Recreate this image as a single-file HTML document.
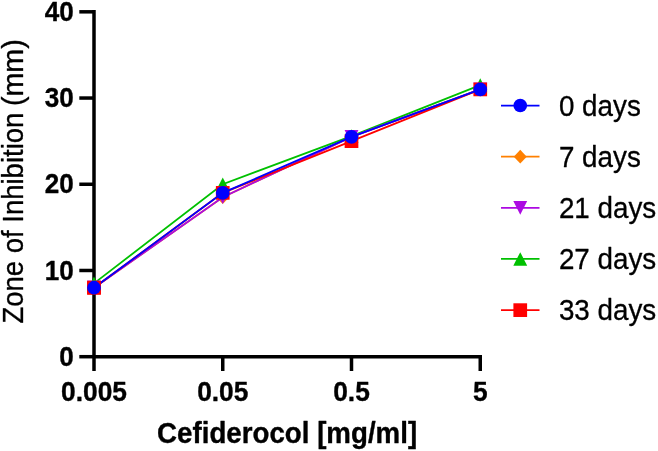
<!DOCTYPE html>
<html><head><meta charset="utf-8"><title>chart</title>
<style>
html,body{margin:0;padding:0;background:#fff;}
body{width:658px;height:451px;overflow:hidden;}
svg{display:block;will-change:transform;}
text{font-family:"Liberation Sans",sans-serif;fill:#000;}
.b{font-weight:bold;}
</style></head><body>
<svg width="658" height="451" viewBox="0 0 658 451">
<rect width="658" height="451" fill="#fff"/>

<polyline points="94.00,283.41 222.75,184.26 351.50,136.15 480.25,85.11" fill="none" stroke="#00c000" stroke-width="1.8"/>
<polygon points="94.00,276.56 100.95,290.26 87.05,290.26" fill="#00c000"/>
<polygon points="222.75,177.41 229.70,191.11 215.80,191.11" fill="#00c000"/>
<polygon points="351.50,129.30 358.45,143.00 344.55,143.00" fill="#00c000"/>
<polygon points="480.25,78.26 487.20,91.96 473.30,91.96" fill="#00c000"/>
<polyline points="94.00,287.72 222.75,197.19 351.50,136.84 480.25,89.42" fill="none" stroke="#ff8000" stroke-width="1.8"/>
<polygon points="94.00,280.92 100.50,287.72 94.00,294.52 87.50,287.72" fill="#ff8000"/>
<polygon points="222.75,190.39 229.25,197.19 222.75,203.99 216.25,197.19" fill="#ff8000"/>
<polygon points="351.50,130.04 358.00,136.84 351.50,143.64 345.00,136.84" fill="#ff8000"/>
<polygon points="480.25,82.62 486.75,89.42 480.25,96.22 473.75,89.42" fill="#ff8000"/>
<polyline points="94.00,287.72 222.75,197.19 351.50,136.84 480.25,89.42" fill="none" stroke="#ac0ae2" stroke-width="1.8"/>
<polygon points="94.00,294.57 100.95,280.87 87.05,280.87" fill="#ac0ae2"/>
<polygon points="222.75,204.04 229.70,190.34 215.80,190.34" fill="#ac0ae2"/>
<polygon points="351.50,143.69 358.45,129.99 344.55,129.99" fill="#ac0ae2"/>
<polygon points="480.25,96.27 487.20,82.57 473.30,82.57" fill="#ac0ae2"/>
<polyline points="94.00,287.72 222.75,192.88 351.50,141.15 480.25,89.42" fill="none" stroke="#ff0000" stroke-width="1.8"/>
<rect x="87.15" y="280.87" width="13.7" height="13.7" fill="#ff0000"/>
<rect x="215.90" y="186.03" width="13.7" height="13.7" fill="#ff0000"/>
<rect x="344.65" y="134.30" width="13.7" height="13.7" fill="#ff0000"/>
<rect x="473.40" y="82.57" width="13.7" height="13.7" fill="#ff0000"/>
<polyline points="94.00,287.72 222.75,192.88 351.50,136.84 480.25,89.42" fill="none" stroke="#0000ff" stroke-width="1.8"/>
<circle cx="94.00" cy="287.72" r="6.85" fill="#0000ff"/>
<circle cx="222.75" cy="192.88" r="6.85" fill="#0000ff"/>
<circle cx="351.50" cy="136.84" r="6.85" fill="#0000ff"/>
<circle cx="480.25" cy="89.42" r="6.85" fill="#0000ff"/>
<g stroke="#000" stroke-width="3.5" fill="none">
<line x1="94.0" y1="10.07" x2="94.0" y2="371"/>
<line x1="94.0" y1="356.7" x2="482.00" y2="356.7"/>
<line x1="79.3" y1="356.70" x2="94.0" y2="356.70"/>
<line x1="79.3" y1="270.48" x2="94.0" y2="270.48"/>
<line x1="79.3" y1="184.26" x2="94.0" y2="184.26"/>
<line x1="79.3" y1="98.04" x2="94.0" y2="98.04"/>
<line x1="79.3" y1="11.82" x2="94.0" y2="11.82"/>
<line x1="222.75" y1="356.7" x2="222.75" y2="371"/>
<line x1="351.50" y1="356.7" x2="351.50" y2="371"/>
<line x1="480.25" y1="356.7" x2="480.25" y2="371"/>
</g>
<polygon points="94.00,276.56 100.95,290.26 87.05,290.26" fill="#00c000"/>
<polygon points="94.00,280.92 100.50,287.72 94.00,294.52 87.50,287.72" fill="#ff8000"/>
<polygon points="94.00,294.57 100.95,280.87 87.05,280.87" fill="#ac0ae2"/>
<rect x="87.15" y="280.87" width="13.7" height="13.7" fill="#ff0000"/>
<circle cx="94.00" cy="287.72" r="6.85" fill="#0000ff"/>
<text class="b" transform="translate(73.70,365.85) scale(0.965,1.025)" font-size="27.0" text-anchor="end" stroke="#000" stroke-width="0.35" stroke-linejoin="round">0</text>
<text class="b" transform="translate(73.70,279.63) scale(0.965,1.025)" font-size="27.0" text-anchor="end" stroke="#000" stroke-width="0.35" stroke-linejoin="round">10</text>
<text class="b" transform="translate(73.70,193.41) scale(0.965,1.025)" font-size="27.0" text-anchor="end" stroke="#000" stroke-width="0.35" stroke-linejoin="round">20</text>
<text class="b" transform="translate(73.70,107.19) scale(0.965,1.025)" font-size="27.0" text-anchor="end" stroke="#000" stroke-width="0.35" stroke-linejoin="round">30</text>
<text class="b" transform="translate(73.70,20.97) scale(0.965,1.025)" font-size="27.0" text-anchor="end" stroke="#000" stroke-width="0.35" stroke-linejoin="round">40</text>
<text class="b" transform="translate(94.00,400.90) scale(0.975,1.025)" font-size="27.0" text-anchor="middle" stroke="#000" stroke-width="0.35" stroke-linejoin="round">0.005</text>
<text class="b" transform="translate(222.75,400.90) scale(0.975,1.025)" font-size="27.0" text-anchor="middle" stroke="#000" stroke-width="0.35" stroke-linejoin="round">0.05</text>
<text class="b" transform="translate(351.50,400.90) scale(0.975,1.025)" font-size="27.0" text-anchor="middle" stroke="#000" stroke-width="0.35" stroke-linejoin="round">0.5</text>
<text class="b" transform="translate(480.25,400.90) scale(0.975,1.025)" font-size="27.0" text-anchor="middle" stroke="#000" stroke-width="0.35" stroke-linejoin="round">5</text>
<text class="b" transform="translate(287.10,443.00) scale(1.0,1.075)" font-size="27.7" text-anchor="middle" stroke="#000" stroke-width="0.35" stroke-linejoin="round">Cefiderocol [mg/ml]</text>
<text transform="translate(22.50,323.60) rotate(-90) scale(1.0,1.095)" font-size="27.5" text-anchor="start" stroke="#000" stroke-width="0.3" stroke-linejoin="round">Zone of Inhibition</text>
<text transform="translate(22.50,39.20) rotate(-90) scale(1.0,1.05)" font-size="28.7" text-anchor="end" stroke="#000" stroke-width="0.3" stroke-linejoin="round">(mm)</text>
<line x1="501" y1="105.50" x2="539.5" y2="105.50" stroke="#0000ff" stroke-width="1.75"/>
<circle cx="520.25" cy="105.50" r="6.85" fill="#0000ff"/>
<text transform="translate(558.90,115.70) scale(1.0,1.085)" font-size="27.8" text-anchor="start" stroke="#000" stroke-width="0.3" stroke-linejoin="round">0 days</text>
<line x1="501" y1="156.66" x2="539.5" y2="156.66" stroke="#ff8000" stroke-width="1.75"/>
<polygon points="520.25,149.86 526.75,156.66 520.25,163.46 513.75,156.66" fill="#ff8000"/>
<text transform="translate(558.90,166.86) scale(1.0,1.085)" font-size="27.8" text-anchor="start" stroke="#000" stroke-width="0.3" stroke-linejoin="round">7 days</text>
<line x1="501" y1="207.82" x2="539.5" y2="207.82" stroke="#ac0ae2" stroke-width="1.75"/>
<polygon points="520.25,214.67 527.20,200.97 513.30,200.97" fill="#ac0ae2"/>
<text transform="translate(558.90,218.02) scale(1.0,1.085)" font-size="27.8" text-anchor="start" stroke="#000" stroke-width="0.3" stroke-linejoin="round">21 days</text>
<line x1="501" y1="258.98" x2="539.5" y2="258.98" stroke="#00c000" stroke-width="1.75"/>
<polygon points="520.25,252.13 527.20,265.83 513.30,265.83" fill="#00c000"/>
<text transform="translate(558.90,269.18) scale(1.0,1.085)" font-size="27.8" text-anchor="start" stroke="#000" stroke-width="0.3" stroke-linejoin="round">27 days</text>
<line x1="501" y1="310.14" x2="539.5" y2="310.14" stroke="#ff0000" stroke-width="1.75"/>
<rect x="513.40" y="303.29" width="13.7" height="13.7" fill="#ff0000"/>
<text transform="translate(558.90,320.34) scale(1.0,1.085)" font-size="27.8" text-anchor="start" stroke="#000" stroke-width="0.3" stroke-linejoin="round">33 days</text>
</svg></body></html>
